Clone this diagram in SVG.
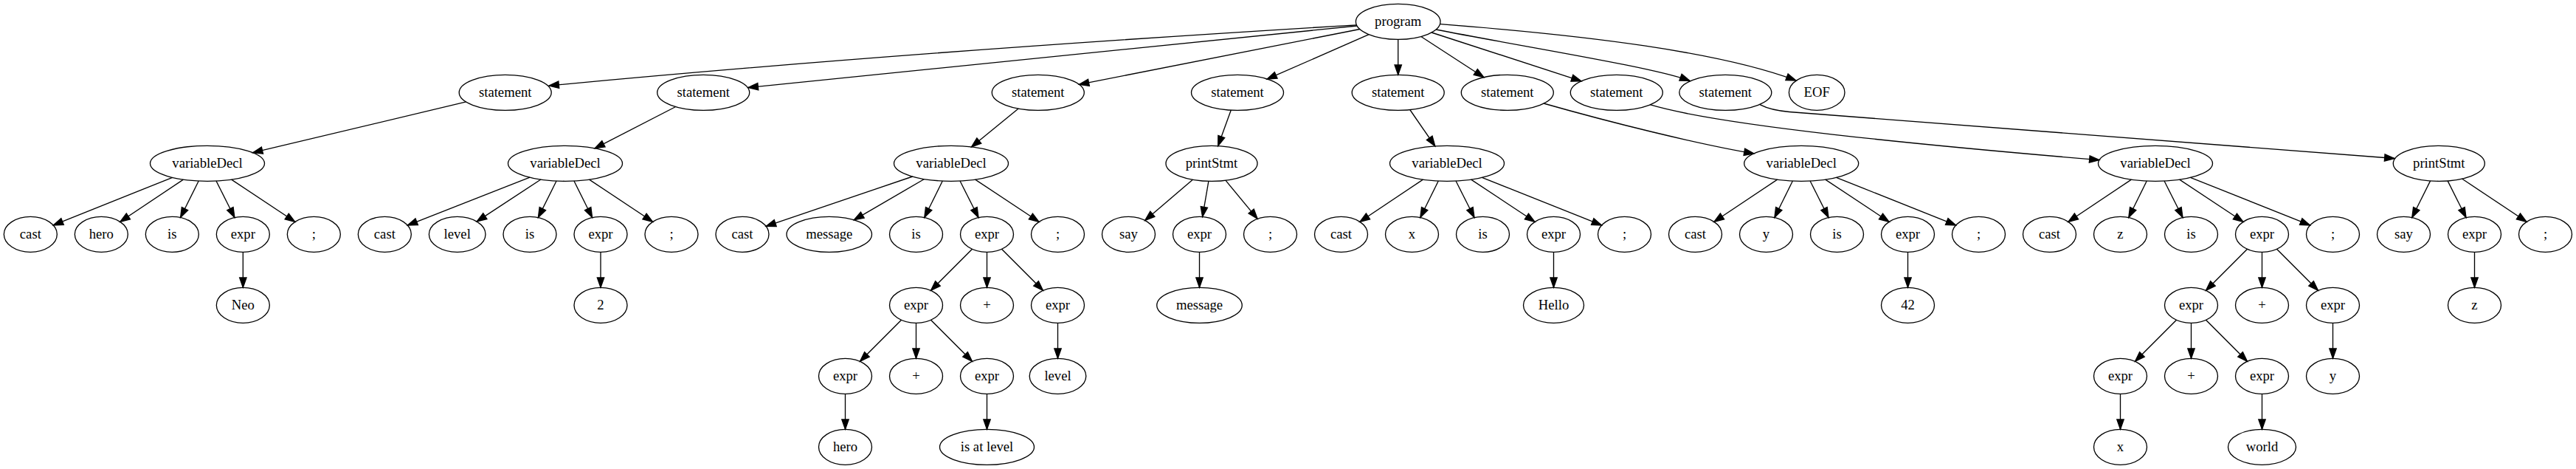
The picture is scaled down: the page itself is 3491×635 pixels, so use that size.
<svg xmlns="http://www.w3.org/2000/svg" width="3491" height="635" viewBox="0 0 3491 635">
<style>
.n ellipse{fill:none;stroke:#000;stroke-width:1.33}
.n text{font-family:"Liberation Serif","Times New Roman",serif;font-size:18.67px;text-anchor:middle;fill:#000}
#edges path{fill:none;stroke:#000;stroke-width:1.33}
</style>
<defs>
<marker id="a" markerUnits="userSpaceOnUse" markerWidth="16" markerHeight="12" refX="14" refY="6" orient="auto" overflow="visible">
<path d="M0.67,1.33 L14,6 L0.67,10.67 Z" fill="#000" stroke="#000" stroke-width="1.33"/>
</marker>
</defs>
<rect width="3491" height="635" fill="#fff"/>
<g id="edges" marker-end="url(#a)">
<path d="M1838.4,33.8 C1488,54.8 1094,82.75 744,116" marker-end="url(#a)"/>
<path d="M1839,35 L1014,118.5" marker-end="url(#a)"/>
<path d="M1842.8,39.5 L1462.4,114.4" marker-end="url(#a)"/>
<path d="M1855.2,46.7 L1717,107.2" marker-end="url(#a)"/>
<path d="M1894.7,53.3 L1894.7,101.3" marker-end="url(#a)"/>
<path d="M1925.8,49.5 L2010.9,104.7" marker-end="url(#a)"/>
<path d="M1940,44 L2143,109.8" marker-end="url(#a)"/>
<path d="M1946,40 C2080,66 2240,91 2290,109.3" marker-end="url(#a)"/>
<path d="M1952,32.7 C2150,48 2330,70 2434,109" marker-end="url(#a)"/>
<path d="M631.6,137.9 L342.5,206.7" marker-end="url(#a)"/>
<path d="M915.7,144.5 L806.1,200.8" marker-end="url(#a)"/>
<path d="M1380.2,147 L1316.5,198.9" marker-end="url(#a)"/>
<path d="M1668.3,149.1 L1650.7,197.5" marker-end="url(#a)"/>
<path d="M1910.7,148.5 L1944.8,197.8" marker-end="url(#a)"/>
<path d="M2092,140 C2180,165 2300,195 2377,208" marker-end="url(#a)"/>
<path d="M2236,141.7 C2330,170 2600,196 2845,216.7" marker-end="url(#a)"/>
<path d="M2385,141.7 Q2400,149.5 2425,151.5 L3245,214.5" marker-end="url(#a)"/>
<path d="M233.6,240.3 L72.2,304.9" marker-end="url(#a)"/>
<path d="M248.4,243.1 L162.8,300.3" marker-end="url(#a)"/>
<path d="M269.2,245 L244.6,294.5" marker-end="url(#a)"/>
<path d="M293,245 L317.9,294.5" marker-end="url(#a)"/>
<path d="M313.7,243.1 L399.8,300.3" marker-end="url(#a)"/>
<path d="M718,240.1 L552.3,305.1" marker-end="url(#a)"/>
<path d="M732.9,243 L646.2,299.9" marker-end="url(#a)"/>
<path d="M754.1,245 L729.4,294.5" marker-end="url(#a)"/>
<path d="M777.9,245 L802.6,294.5" marker-end="url(#a)"/>
<path d="M798.6,243.1 L884.6,300.3" marker-end="url(#a)"/>
<path d="M1236.7,239 L1038.1,306.4" marker-end="url(#a)"/>
<path d="M1252.5,242.5 L1157.3,297.8" marker-end="url(#a)"/>
<path d="M1277.3,245 L1252.8,294.5" marker-end="url(#a)"/>
<path d="M1301,245 L1326,294.5" marker-end="url(#a)"/>
<path d="M1321.7,243.1 L1408,300.3" marker-end="url(#a)"/>
<path d="M1616.4,243.2 L1551.7,298.4" marker-end="url(#a)"/>
<path d="M1637.9,245.2 L1629.6,293.5" marker-end="url(#a)"/>
<path d="M1660.9,244.2 L1704.1,296.3" marker-end="url(#a)"/>
<path d="M1928.4,243.1 L1842.9,300.3" marker-end="url(#a)"/>
<path d="M1949.3,245 L1924.8,294.5" marker-end="url(#a)"/>
<path d="M1973,245 L1998,294.5" marker-end="url(#a)"/>
<path d="M1993.7,243.1 L2080,300.3" marker-end="url(#a)"/>
<path d="M2008.5,240.3 L2170.6,304.9" marker-end="url(#a)"/>
<path d="M2408.6,243.1 L2322.9,300.3" marker-end="url(#a)"/>
<path d="M2429.4,245 L2404.9,294.5" marker-end="url(#a)"/>
<path d="M2453.1,245 L2478,294.5" marker-end="url(#a)"/>
<path d="M2473.8,243.1 L2560.1,300.3" marker-end="url(#a)"/>
<path d="M2488.6,240.3 L2650.6,304.9" marker-end="url(#a)"/>
<path d="M2888.4,243.1 L2802.9,300.3" marker-end="url(#a)"/>
<path d="M2909.3,245 L2884.8,294.5" marker-end="url(#a)"/>
<path d="M2933,245 L2958,294.5" marker-end="url(#a)"/>
<path d="M2953.7,243.1 L3040,300.3" marker-end="url(#a)"/>
<path d="M2968.5,240.3 L3130.6,304.9" marker-end="url(#a)"/>
<path d="M3293.6,244.9 L3268.8,294.5" marker-end="url(#a)"/>
<path d="M3317.1,244.9 L3342,294.5" marker-end="url(#a)"/>
<path d="M3336.5,242 L3424,300.3" marker-end="url(#a)"/>
<path d="M329.33,341.3 L329.33,389.3" marker-end="url(#a)"/>
<path d="M814,341.3 L814,389.3" marker-end="url(#a)"/>
<path d="M1317.5,337.3 L1261.5,393.3" marker-end="url(#a)"/>
<path d="M1337.5,341.3 L1337.5,389.3" marker-end="url(#a)"/>
<path d="M1357.5,337.3 L1413.5,393.3" marker-end="url(#a)"/>
<path d="M1625.5,341.3 L1625.5,389.3" marker-end="url(#a)"/>
<path d="M2105.5,341.3 L2105.5,389.3" marker-end="url(#a)"/>
<path d="M2585.5,341.3 L2585.5,389.3" marker-end="url(#a)"/>
<path d="M3045.5,337.3 L2989.5,393.3" marker-end="url(#a)"/>
<path d="M3065.5,341.3 L3065.5,389.3" marker-end="url(#a)"/>
<path d="M3085.5,337.3 L3141.5,393.3" marker-end="url(#a)"/>
<path d="M3353.5,341.3 L3353.5,389.3" marker-end="url(#a)"/>
<path d="M1221.5,433.3 L1165.5,489.3" marker-end="url(#a)"/>
<path d="M1241.5,437.3 L1241.5,485.3" marker-end="url(#a)"/>
<path d="M1261.5,433.3 L1317.5,489.3" marker-end="url(#a)"/>
<path d="M1433.5,437.3 L1433.5,485.3" marker-end="url(#a)"/>
<path d="M2949.5,433.3 L2893.5,489.3" marker-end="url(#a)"/>
<path d="M2969.5,437.3 L2969.5,485.3" marker-end="url(#a)"/>
<path d="M2989.5,433.3 L3045.5,489.3" marker-end="url(#a)"/>
<path d="M3161.5,437.3 L3161.5,485.3" marker-end="url(#a)"/>
<path d="M1145.5,533.3 L1145.5,581.3" marker-end="url(#a)"/>
<path d="M1337.5,533.3 L1337.5,581.3" marker-end="url(#a)"/>
<path d="M2873.5,533.3 L2873.5,581.3" marker-end="url(#a)"/>
<path d="M3065.5,533.3 L3065.5,581.3" marker-end="url(#a)"/>
</g>
<g id="program" class="n" transform="translate(1894.7,29.3)"><ellipse rx="57.3" ry="24"/><text y="6">program</text></g>
<g id="stmt1" class="n" transform="translate(684.7,125.3)"><ellipse rx="62.5" ry="24"/><text y="6">statement</text></g>
<g id="stmt2" class="n" transform="translate(953.2,125.3)"><ellipse rx="62.5" ry="24"/><text y="6">statement</text></g>
<g id="stmt3" class="n" transform="translate(1406.8,125.3)"><ellipse rx="62.5" ry="24"/><text y="6">statement</text></g>
<g id="stmt4" class="n" transform="translate(1677,125.3)"><ellipse rx="62.5" ry="24"/><text y="6">statement</text></g>
<g id="stmt5" class="n" transform="translate(1894.7,125.3)"><ellipse rx="62.5" ry="24"/><text y="6">statement</text></g>
<g id="stmt6" class="n" transform="translate(2042.8,125.3)"><ellipse rx="62.5" ry="24"/><text y="6">statement</text></g>
<g id="stmt7" class="n" transform="translate(2190.8,125.3)"><ellipse rx="62.5" ry="24"/><text y="6">statement</text></g>
<g id="stmt8" class="n" transform="translate(2338.3,125.3)"><ellipse rx="62.5" ry="24"/><text y="6">statement</text></g>
<g id="eof" class="n" transform="translate(2462.2,125.3)"><ellipse rx="37.8" ry="24"/><text y="6">EOF</text></g>
<g id="vd1" class="n" transform="translate(281,221.3)"><ellipse rx="77.5" ry="24"/><text y="6">variableDecl</text></g>
<g id="vd2" class="n" transform="translate(766,221.3)"><ellipse rx="77.5" ry="24"/><text y="6">variableDecl</text></g>
<g id="vd3" class="n" transform="translate(1289,221.3)"><ellipse rx="77.5" ry="24"/><text y="6">variableDecl</text></g>
<g id="ps1" class="n" transform="translate(1642,221.3)"><ellipse rx="62" ry="24"/><text y="6">printStmt</text></g>
<g id="vd4" class="n" transform="translate(1961,221.3)"><ellipse rx="77.5" ry="24"/><text y="6">variableDecl</text></g>
<g id="vd5" class="n" transform="translate(2441.2,221.3)"><ellipse rx="77.5" ry="24"/><text y="6">variableDecl</text></g>
<g id="vd6" class="n" transform="translate(2921,221.3)"><ellipse rx="77.5" ry="24"/><text y="6">variableDecl</text></g>
<g id="ps2" class="n" transform="translate(3305.3,221.3)"><ellipse rx="62" ry="24"/><text y="6">printStmt</text></g>
<g id="l1_cast" class="n" transform="translate(41.33,317.3)"><ellipse rx="36" ry="24"/><text y="6">cast</text></g>
<g id="l1_hero" class="n" transform="translate(137.33,317.3)"><ellipse rx="36" ry="24"/><text y="6">hero</text></g>
<g id="l1_is" class="n" transform="translate(233.33,317.3)"><ellipse rx="36" ry="24"/><text y="6">is</text></g>
<g id="l1_expr" class="n" transform="translate(329.33,317.3)"><ellipse rx="36" ry="24"/><text y="6">expr</text></g>
<g id="l1_semi" class="n" transform="translate(425.33,317.3)"><ellipse rx="36" ry="24"/><text y="6">;</text></g>
<g id="l2_cast" class="n" transform="translate(521.33,317.3)"><ellipse rx="36" ry="24"/><text y="6">cast</text></g>
<g id="l2_level" class="n" transform="translate(619.7,317.3)"><ellipse rx="38.3" ry="24"/><text y="6">level</text></g>
<g id="l2_is" class="n" transform="translate(718,317.3)"><ellipse rx="36" ry="24"/><text y="6">is</text></g>
<g id="l2_expr" class="n" transform="translate(814,317.3)"><ellipse rx="36" ry="24"/><text y="6">expr</text></g>
<g id="l2_semi" class="n" transform="translate(910,317.3)"><ellipse rx="36" ry="24"/><text y="6">;</text></g>
<g id="l3_cast" class="n" transform="translate(1006,317.3)"><ellipse rx="36" ry="24"/><text y="6">cast</text></g>
<g id="l3_message" class="n" transform="translate(1123.75,317.3)"><ellipse rx="57.75" ry="24"/><text y="6">message</text></g>
<g id="l3_is" class="n" transform="translate(1241.5,317.3)"><ellipse rx="36" ry="24"/><text y="6">is</text></g>
<g id="l3_expr" class="n" transform="translate(1337.5,317.3)"><ellipse rx="36" ry="24"/><text y="6">expr</text></g>
<g id="l3_semi" class="n" transform="translate(1433.5,317.3)"><ellipse rx="36" ry="24"/><text y="6">;</text></g>
<g id="p1_say" class="n" transform="translate(1529.5,317.3)"><ellipse rx="36" ry="24"/><text y="6">say</text></g>
<g id="p1_expr" class="n" transform="translate(1625.5,317.3)"><ellipse rx="36" ry="24"/><text y="6">expr</text></g>
<g id="p1_semi" class="n" transform="translate(1721.5,317.3)"><ellipse rx="36" ry="24"/><text y="6">;</text></g>
<g id="l4_cast" class="n" transform="translate(1817.5,317.3)"><ellipse rx="36" ry="24"/><text y="6">cast</text></g>
<g id="l4_x" class="n" transform="translate(1913.5,317.3)"><ellipse rx="36" ry="24"/><text y="6">x</text></g>
<g id="l4_is" class="n" transform="translate(2009.5,317.3)"><ellipse rx="36" ry="24"/><text y="6">is</text></g>
<g id="l4_expr" class="n" transform="translate(2105.5,317.3)"><ellipse rx="36" ry="24"/><text y="6">expr</text></g>
<g id="l4_semi" class="n" transform="translate(2201.5,317.3)"><ellipse rx="36" ry="24"/><text y="6">;</text></g>
<g id="l5_cast" class="n" transform="translate(2297.5,317.3)"><ellipse rx="36" ry="24"/><text y="6">cast</text></g>
<g id="l5_y" class="n" transform="translate(2393.5,317.3)"><ellipse rx="36" ry="24"/><text y="6">y</text></g>
<g id="l5_is" class="n" transform="translate(2489.5,317.3)"><ellipse rx="36" ry="24"/><text y="6">is</text></g>
<g id="l5_expr" class="n" transform="translate(2585.5,317.3)"><ellipse rx="36" ry="24"/><text y="6">expr</text></g>
<g id="l5_semi" class="n" transform="translate(2681.5,317.3)"><ellipse rx="36" ry="24"/><text y="6">;</text></g>
<g id="l6_cast" class="n" transform="translate(2777.5,317.3)"><ellipse rx="36" ry="24"/><text y="6">cast</text></g>
<g id="l6_z" class="n" transform="translate(2873.5,317.3)"><ellipse rx="36" ry="24"/><text y="6">z</text></g>
<g id="l6_is" class="n" transform="translate(2969.5,317.3)"><ellipse rx="36" ry="24"/><text y="6">is</text></g>
<g id="l6_expr" class="n" transform="translate(3065.5,317.3)"><ellipse rx="36" ry="24"/><text y="6">expr</text></g>
<g id="l6_semi" class="n" transform="translate(3161.5,317.3)"><ellipse rx="36" ry="24"/><text y="6">;</text></g>
<g id="p2_say" class="n" transform="translate(3257.5,317.3)"><ellipse rx="36" ry="24"/><text y="6">say</text></g>
<g id="p2_expr" class="n" transform="translate(3353.5,317.3)"><ellipse rx="36" ry="24"/><text y="6">expr</text></g>
<g id="p2_semi" class="n" transform="translate(3449.5,317.3)"><ellipse rx="36" ry="24"/><text y="6">;</text></g>
<g id="r4_neo" class="n" transform="translate(329.33,413.3)"><ellipse rx="36" ry="24"/><text y="6">Neo</text></g>
<g id="r4_2" class="n" transform="translate(814,413.3)"><ellipse rx="36" ry="24"/><text y="6">2</text></g>
<g id="r4_expra" class="n" transform="translate(1241.5,413.3)"><ellipse rx="36" ry="24"/><text y="6">expr</text></g>
<g id="r4_plus" class="n" transform="translate(1337.5,413.3)"><ellipse rx="36" ry="24"/><text y="6">+</text></g>
<g id="r4_exprb" class="n" transform="translate(1433.5,413.3)"><ellipse rx="36" ry="24"/><text y="6">expr</text></g>
<g id="r4_message" class="n" transform="translate(1625.5,413.3)"><ellipse rx="57.75" ry="24"/><text y="6">message</text></g>
<g id="r4_hello" class="n" transform="translate(2105.5,413.3)"><ellipse rx="41" ry="24"/><text y="6">Hello</text></g>
<g id="r4_42" class="n" transform="translate(2585.5,413.3)"><ellipse rx="36" ry="24"/><text y="6">42</text></g>
<g id="r4_exprc" class="n" transform="translate(2969.5,413.3)"><ellipse rx="36" ry="24"/><text y="6">expr</text></g>
<g id="r4_plus2" class="n" transform="translate(3065.5,413.3)"><ellipse rx="36" ry="24"/><text y="6">+</text></g>
<g id="r4_exprd" class="n" transform="translate(3161.5,413.3)"><ellipse rx="36" ry="24"/><text y="6">expr</text></g>
<g id="r4_z" class="n" transform="translate(3353.5,413.3)"><ellipse rx="36" ry="24"/><text y="6">z</text></g>
<g id="r5_expra" class="n" transform="translate(1145.5,509.3)"><ellipse rx="36" ry="24"/><text y="6">expr</text></g>
<g id="r5_plus" class="n" transform="translate(1241.5,509.3)"><ellipse rx="36" ry="24"/><text y="6">+</text></g>
<g id="r5_exprb" class="n" transform="translate(1337.5,509.3)"><ellipse rx="36" ry="24"/><text y="6">expr</text></g>
<g id="r5_level" class="n" transform="translate(1433.5,509.3)"><ellipse rx="38.3" ry="24"/><text y="6">level</text></g>
<g id="r5_exprc" class="n" transform="translate(2873.5,509.3)"><ellipse rx="36" ry="24"/><text y="6">expr</text></g>
<g id="r5_plus2" class="n" transform="translate(2969.5,509.3)"><ellipse rx="36" ry="24"/><text y="6">+</text></g>
<g id="r5_exprd" class="n" transform="translate(3065.5,509.3)"><ellipse rx="36" ry="24"/><text y="6">expr</text></g>
<g id="r5_y" class="n" transform="translate(3161.5,509.3)"><ellipse rx="36" ry="24"/><text y="6">y</text></g>
<g id="r6_hero" class="n" transform="translate(1145.5,605.3)"><ellipse rx="36" ry="24"/><text y="6">hero</text></g>
<g id="r6_isatlevel" class="n" transform="translate(1337.5,605.3)"><ellipse rx="64" ry="24"/><text y="6">is at level</text></g>
<g id="r6_x" class="n" transform="translate(2873.5,605.3)"><ellipse rx="36" ry="24"/><text y="6">x</text></g>
<g id="r6_world" class="n" transform="translate(3065.5,605.3)"><ellipse rx="46" ry="24"/><text y="6">world</text></g>
</svg>
